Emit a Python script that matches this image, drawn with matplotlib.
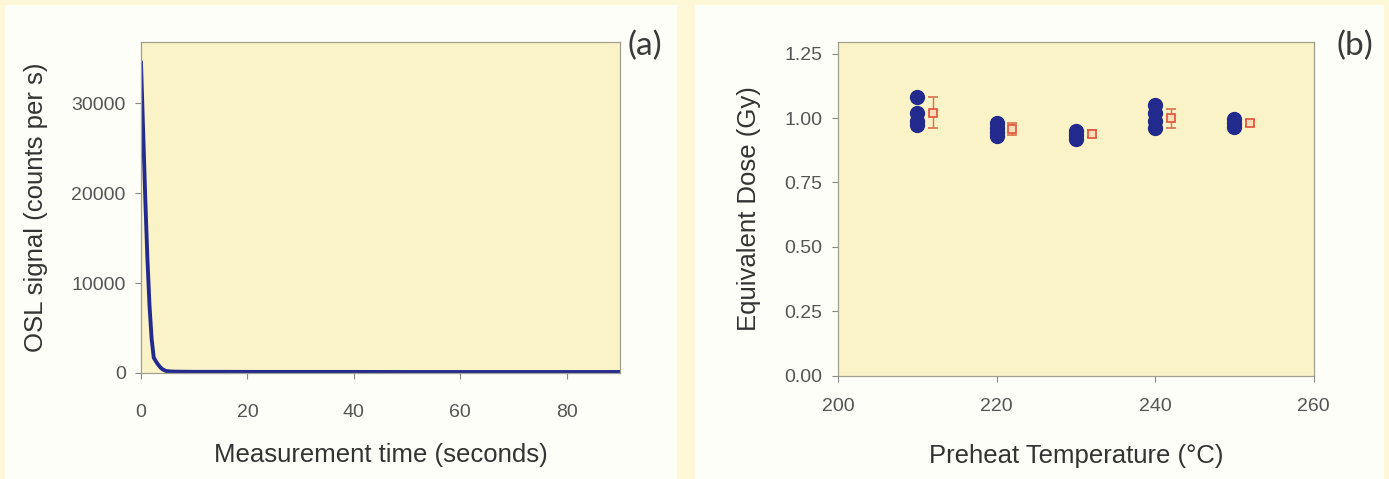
import numpy as np
import matplotlib.pyplot as plt
from matplotlib.patches import Rectangle

# ---------------------------------------------------------------
# data
# ---------------------------------------------------------------

# (a) OSL decay curve
time_s = [0, 0.4, 0.8, 1.2, 1.6, 2.0, 2.4, 2.8, 3.2, 3.6, 4.0, 4.4, 4.8,
          5.6, 6.4, 8, 10, 15, 20, 30, 40, 50, 60, 70, 80, 90]
osl_cps = [34500, 27000, 19500, 12800, 7500, 3800, 1700, 1300, 950, 650,
           430, 300, 210, 170, 150, 140, 130, 130, 120, 120, 120, 110, 110,
           110, 110, 110]

# (b) equivalent dose vs preheat temperature, individual aliquots
aliquot_temp = [210, 210, 210, 210,
                220, 220, 220, 220,
                230, 230, 230,
                240, 240, 240, 240,
                250, 250, 250]
aliquot_de = [1.08, 1.02, 0.99, 0.975,
              0.98, 0.96, 0.945, 0.93,
              0.95, 0.935, 0.92,
              1.05, 1.02, 0.99, 0.96,
              0.995, 0.98, 0.967]

# means (plotted slightly offset) with error
mean_temp = [212, 222, 232, 242, 252]
mean_de = [1.02, 0.957, 0.94, 1.0, 0.981]
mean_err = [0.06, 0.024, 0.012, 0.037, 0.01]

# ---------------------------------------------------------------
# styling
# ---------------------------------------------------------------
plt.rcParams['font.family'] = ['Liberation Sans', 'DejaVu Sans']

outer_bg = '#FFF8D8'
panel_bg = '#FEFEF8'
axes_bg = '#FBF3C8'
navy = '#222A8E'
red = '#E0503A'
tick_col = '#555555'
label_col = '#333333'

fig = plt.figure(figsize=(13.89, 4.79), dpi=100)
fig.patch.set_facecolor(outer_bg)

# the two white panels (behind the axes)
fig.patches.append(Rectangle((0.0036, 0.0), 0.4838, 0.9896,
                             transform=fig.transFigure, facecolor=panel_bg,
                             edgecolor='none', zorder=-5))
fig.patches.append(Rectangle((0.5004, 0.0), 0.4960, 0.9896,
                             transform=fig.transFigure, facecolor=panel_bg,
                             edgecolor='none', zorder=-5))

ax1 = fig.add_axes([0.1015, 0.2213, 0.3449, 0.6910])
ax2 = fig.add_axes([0.6033, 0.2157, 0.3424, 0.6975])


def style_axes(ax):
    ax.set_facecolor(axes_bg)
    for side in ['top', 'right', 'left', 'bottom']:
        ax.spines[side].set_color('#A0A090')
        ax.spines[side].set_linewidth(0.9)
    ax.tick_params(direction='out', length=4, width=0.8, color='#888888',
                   labelcolor=tick_col, labelsize=14)
    ax.tick_params(axis='x', pad=18)
    ax.tick_params(axis='y', pad=7)


# ---------------------------------------------------------------
# (a)
# ---------------------------------------------------------------
style_axes(ax1)
ax1.plot(time_s, osl_cps, color=navy, lw=2.8, solid_joinstyle='round')
ax1.set_xlim(0, 90)
ax1.set_ylim(0, 36800)
ax1.set_xticks([0, 20, 40, 60, 80])
ax1.set_yticks([0, 10000, 20000, 30000])
ax1.set_xlabel('Measurement time (seconds)', fontsize=18.5, color=label_col,
               labelpad=16)
ax1.set_ylabel('OSL signal (counts per s)', fontsize=18.5, color=label_col,
               labelpad=17)
fig.text(0.477, 0.905, '(a)', fontsize=24, color='#3A3A3A', family='Lato',
         ha='right', va='center')

# ---------------------------------------------------------------
# (b)
# ---------------------------------------------------------------
style_axes(ax2)
ax2.plot(aliquot_temp, aliquot_de, 'o', color=navy, ms=10, mec=navy,
         zorder=3)
ax2.errorbar(mean_temp, mean_de, yerr=mean_err, fmt='s', ms=6,
             mfc='#F8DDB8', mec=red, mew=1.2, ecolor='#D9704E',
             elinewidth=1.0, capsize=3.5, capthick=1.0, zorder=4)
ax2.set_xlim(200, 260)
ax2.set_ylim(0, 1.297)
ax2.set_xticks([200, 220, 240, 260])
ax2.set_yticks([0, 0.25, 0.5, 0.75, 1.0, 1.25])
ax2.set_yticklabels(['0.00', '0.25', '0.50', '0.75', '1.00', '1.25'])
ax2.tick_params(axis='x', pad=12)
ax2.set_xlabel('Preheat Temperature (°C)', fontsize=18.5, color=label_col,
               labelpad=21)
ax2.set_ylabel('Equivalent Dose (Gy)', fontsize=18.5, color=label_col,
               labelpad=17)
fig.text(0.989, 0.905, '(b)', fontsize=24, color='#3A3A3A', family='Lato',
         ha='right', va='center')

fig.savefig('out.png', dpi=100, facecolor=fig.get_facecolor())
